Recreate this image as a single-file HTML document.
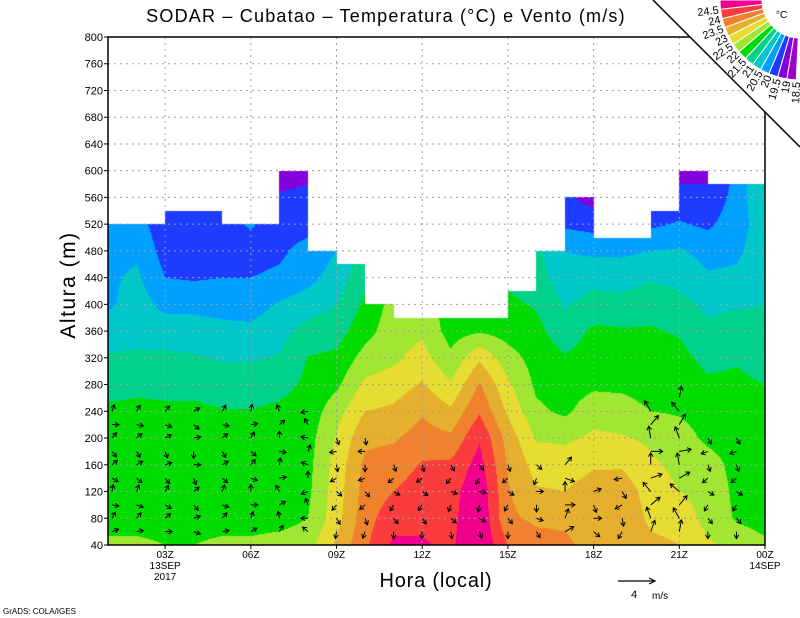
<!DOCTYPE html>
<html><head><meta charset="utf-8">
<style>
html,body{margin:0;padding:0;background:#fff;}
#wrap{position:relative;width:800px;height:618px;overflow:hidden;font-family:"Liberation Sans",sans-serif;}
#fill{position:absolute;left:0;top:0;}
#ov{position:absolute;left:0;top:0;}
</style></head>
<body>
<div id="wrap">
<canvas id="fill" width="800" height="618"></canvas>
<svg id="ov" width="800" height="618" xmlns="http://www.w3.org/2000/svg"></svg>
</div>
<script>
// ---- data ----
const hours = [1,2,3,4,5,6,7,8,9,10,11,12,13,14,15,16,17,18,19,20,21,22,23,24];
const heights = [40,80,120,160,200,240,280,320,360,400,440,480,520,560,600];
const temp = [
[22.1,21.8,21.8,21.8,21.7,21.6,21.3,21.05,20.8,20.4,20.4,20.3,20.2,20.1,20.0],
[22.1,21.8,21.8,21.8,21.8,21.65,21.35,21.05,20.9,20.75,20.6,20.4,20.2,20.0,19.9],
[22.0,21.8,21.8,21.8,21.8,21.6,21.35,21.1,20.75,20.35,20.0,19.8,19.7,19.7,19.7],
[22.0,21.8,21.8,21.8,21.8,21.6,21.35,21.05,20.75,20.35,19.95,19.8,19.8,20.1,20.0],
[22.1,21.8,21.8,21.8,21.8,21.52,21.3,20.95,20.65,20.3,20.0,19.8,19.85,19.8,19.7],
[22.1,21.8,21.8,21.8,21.8,21.52,21.25,20.95,20.6,20.3,20.0,19.8,20.05,19.8,19.6],
[22.2,21.8,21.8,21.8,21.8,21.6,21.35,21.05,20.8,20.55,20.1,19.9,19.75,19.55,19.3],
[22.3,22.0,21.9,21.85,21.8,21.7,21.6,21.52,21.2,20.75,20.35,20.2,19.8,19.6,19.4],
[23.1,22.8,22.75,22.7,22.55,22.3,21.9,21.6,21.3,21.0,20.7,20.5,20.3,20.1,20.0],
[23.9,23.8,23.7,23.6,23.4,23.0,22.6,22.2,21.8,21.6,21.4,21.2,21.0,21.0,21.0],
[24.6,24.3,24.0,23.7,23.45,23.1,22.75,22.4,22.3,22.2,22.0,22.0,22.0,22.0,22.0],
[24.55,24.4,24.3,24.05,23.7,23.45,23.05,22.7,22.4,22.3,22.0,22.0,22.0,22.0,22.0],
[24.4,24.35,24.3,24.1,23.6,23.1,22.55,22.1,21.8,21.7,21.6,21.6,21.6,21.6,21.6],
[25.0,24.95,24.9,24.7,24.45,23.95,23.55,22.9,21.95,21.6,21.5,21.5,21.5,21.5,21.5],
[24.0,23.6,23.55,23.45,23.3,22.9,22.6,22.2,21.8,21.6,21.4,21.3,21.2,21.2,21.2],
[23.7,23.4,23.05,22.8,22.45,22.1,21.9,21.8,21.65,21.45,21.25,21.1,20.5,20.0,20.0],
[23.6,23.4,23.0,22.8,22.4,21.9,21.75,21.55,21.2,20.95,20.7,20.5,19.9,19.6,19.5],
[23.3,23.3,23.2,22.95,22.6,22.3,21.9,21.75,21.6,21.2,20.85,20.4,19.8,19.3,19.3],
[23.4,23.35,23.25,22.95,22.55,22.2,21.9,21.75,21.55,21.15,20.8,20.4,20.2,20.0,20.0],
[23.1,22.9,22.8,22.6,22.4,22.0,21.8,21.7,21.55,21.3,20.95,20.5,19.9,19.7,19.6],
[23.0,22.85,22.5,22.35,22.2,21.95,21.8,21.65,21.45,21.15,20.85,20.55,20.05,19.7,19.3],
[22.6,22.3,22.3,22.2,21.9,21.8,21.6,21.35,21.1,20.9,20.55,20.35,19.9,19.6,19.4],
[22.3,21.95,21.9,21.85,21.8,21.7,21.6,21.45,21.2,20.95,20.6,20.4,20.3,20.2,20.1],
[22.1,21.8,21.8,21.7,21.65,21.6,21.5,21.3,21.1,21.0,20.9,20.8,20.75,21.0,21.2]
];
// data top (m) for each hourly interval h..h+1
const dataTop = [520,520,540,540,520,520,600,480,460,400,380,380,380,380,420,480,560,500,500,540,600,580,580];
const levels = [24.5,24,23.5,23,22.5,22,21.5,21,20.5,20,19.5,19];
const levelColors = ["#f0008c","#fa3c3c","#f0822d","#e6af2d","#e6dc32","#a0e632","#00dc00","#00d28c","#00c8c8","#00a0ff","#1e3cff","#8200dc","#a000c8"];
const legendLabels = ["24.5","24","23.5","23","22.5","22","21.5","21","20.5","20","19.5","19","18.5"];
const yTicks = [40,80,120,160,200,240,280,320,360,400,440,480,520,560,600,640,680,720,760,800];
const xTickHours = [3,6,9,12,15,18,21,24];
const xTickLabels = ["03Z","06Z","09Z","12Z","15Z","18Z","21Z","00Z"];
// wind: direction (deg, math convention) per column, top height of arrows, and per-row veer
const windDir = [20,10,0,-20,10,30,60,140,-100,-110,-90,-95,-80,-70,-90,-60,30,-40,-120,70,80,-90,-90];
const windTopZ = [240,240,240,240,240,240,240,240,200,200,160,160,160,160,160,160,160,120,140,240,260,200,200];
const windLen = [7,7,7,7,7,7,7,7,7,7,7,7,7,7,7,7,10,8,8,12,12,7,7];
const rowVeer = [0,40,-30,60,-50,20,-70,30,-20,50];
const windRowZ = [60,80,100,120,140,160,180,200,220,240,260];

// ---- axes ----
const X0=108, X1=765, Y0=545, Y1=37;
function xOf(h){return X0+(h-1)*(X1-X0)/23;}
function yOf(z){return Y0-(z-40)*(Y0-Y1)/760;}
function colorOf(t){for(let i=0;i<levels.length;i++){if(t>=levels[i])return levelColors[i];}return levelColors[levelColors.length-1];}
function tempAt(h,z){
  let i=Math.min(Math.max(Math.floor(h-1),0),22), fx=(h-1)-i;
  let j=Math.min(Math.max(Math.floor((z-40)/40),0),13), fy=(z-40)/40-j;
  fx=Math.min(Math.max(fx,0),1); fy=Math.min(Math.max(fy,0),1);
  const a=temp[i][j],b=temp[i+1][j],c=temp[i][j+1],d=temp[i+1][j+1];
  return a*(1-fx)*(1-fy)+b*fx*(1-fy)+c*(1-fx)*fy+d*fx*fy;
}
// ---- fill ----
const cv=document.getElementById('fill'), ctx=cv.getContext('2d');
for(let px=X0;px<X1;px++){
  const h=1+(px+0.5-X0)*23/(X1-X0);
  const idx=Math.min(Math.floor(h-1),22);
  for(let py=Y1;py<Y0;py++){
    const z=40+(Y0-(py+0.5))*760/(Y0-Y1);
    if(z>dataTop[idx])continue;
    ctx.fillStyle=colorOf(tempAt(h,z));
    ctx.fillRect(px,py,1,1);
  }
}
// ---- overlay ----
const NS="http://www.w3.org/2000/svg", svg=document.getElementById('ov');
function mk(tag,attrs,parent){const e=document.createElementNS(NS,tag);for(const k in attrs)e.setAttribute(k,attrs[k]);(parent||svg).appendChild(e);return e;}
function txt(s,attrs,parent){const e=mk('text',attrs,parent);e.textContent=s;return e;}

const grid=mk('g',{stroke:'#a0a0a0','stroke-width':1,'stroke-dasharray':'2,4'});


yTicks.forEach(z=>{if(z>40&&z<800)mk('line',{x1:X0,x2:X1,y1:yOf(z),y2:yOf(z)},grid);});
xTickHours.forEach(h=>{if(h<24)mk('line',{x1:xOf(h),x2:xOf(h),y1:Y1,y2:Y0},grid);});

// wind arrows
const winds=mk('g',{stroke:'#000','stroke-width':1,fill:'none'});


windDir.forEach((d,ci)=>{
  const x=xOf(ci+1)+ (ci===0?4:0);
  windRowZ.forEach((z,ri)=>{
    if(z>windTopZ[ci])return;
    const a=(d+rowVeer[ri%rowVeer.length])*Math.PI/180, L=windLen[ci];
    const y=yOf(z);
    const x2=x+L*Math.cos(a), y2=y-L*Math.sin(a);
    const ha=0.55, hl=4.5;
    const p=`M${x},${y}L${x2},${y2}M${x2-hl*Math.cos(a-ha)},${y2+hl*Math.sin(a-ha)}L${x2},${y2}L${x2-hl*Math.cos(a+ha)},${y2+hl*Math.sin(a+ha)}`;
    const el=mk('path',{d:p},winds);
    
    
  });
});

// frame
const fr=mk('rect',{x:X0,y:Y1,width:X1-X0,height:Y0-Y1,fill:'none',stroke:'#000','stroke-width':1.5});


// y ticks
const yax=mk('g',{'font-size':11,'text-anchor':'end',fill:'#000'});


yTicks.forEach(z=>{
  mk('line',{x1:X0-4,x2:X0,y1:yOf(z),y2:yOf(z),stroke:'#000'},yax);
  const t=txt(String(z),{x:X0-5,y:yOf(z)+4},yax);
  
  
});
// x ticks
const xax=mk('g',{'font-size':10,'text-anchor':'middle',fill:'#000'});


xTickHours.forEach((h,i)=>{
  mk('line',{x1:xOf(h),x2:xOf(h),y1:Y0,y2:Y0+4,stroke:'#000'},xax);
  const t=txt(xTickLabels[i],{x:xOf(h),y:558},xax);
  
  
});
txt('13SEP',{x:xOf(3),y:569},xax);
txt('2017',{x:xOf(3),y:580},xax);
txt('14SEP',{x:xOf(24),y:569},xax);

// white corner + diagonal + legend
const corner=mk('polygon',{points:'653,0 800,0 800,147',fill:'#fff'});


const diag=mk('line',{x1:653,y1:0,x2:800,y2:147,stroke:'#000','stroke-width':1.5});


const leg=mk('g',{});


const step=90/13.4, R1=38, R2=80, cx=800, cy=0;
function pt(r,deg){const a=deg*Math.PI/180;return [cx-r*Math.cos(a),cy+r*Math.sin(a)];}
levelColors.forEach((c,i)=>{
  const a0=i*step,a1=(i+1)*step;
  const p1=pt(R2,a0),p2=pt(R2,a1),p3=pt(R1,a1),p4=pt(R1,a0);
  const w=mk('path',{d:`M${p1}A${R2},${R2} 0 0 0 ${p2}L${p3}A${R1},${R1} 0 0 1 ${p4}Z`,fill:c,stroke:'#fff','stroke-width':1},leg);
  
  
});
legendLabels.forEach((s,i)=>{
  const a=(i+1)*step; const p=pt(R2+2,a);
  const t=txt(s,{x:p[0],y:p[1],'font-size':11,'text-anchor':'end',transform:`rotate(${-a} ${p[0]} ${p[1]}) translate(0 4)`},leg);
  
  
});
const degc=txt('°C',{x:776,y:18,'font-size':10},leg);



// titles
const title=txt('SODAR – Cubatao – Temperatura (°C) e Vento (m/s)',{x:386,y:22,'font-size':18,'letter-spacing':1.2,'text-anchor':'middle'});


const yt=txt('Altura (m)',{x:0,y:0,'font-size':21,'letter-spacing':1.5,'text-anchor':'middle',transform:'translate(75 285) rotate(-90)'});


const xt=txt('Hora (local)',{x:436,y:587,'font-size':20,'letter-spacing':0.8,'text-anchor':'middle'});


// reference vector
const rv=mk('g',{});


mk('path',{d:'M618,581L655,581M649,578L655,581L649,584',stroke:'#000',fill:'none','stroke-width':1.2},rv);
txt('4',{x:631,y:598,'font-size':11},rv);
txt('m/s',{x:652,y:599,'font-size':10},rv);
const cr=txt('GrADS: COLA/IGES',{x:3,y:614,'font-size':8});


</script>
</body></html>
